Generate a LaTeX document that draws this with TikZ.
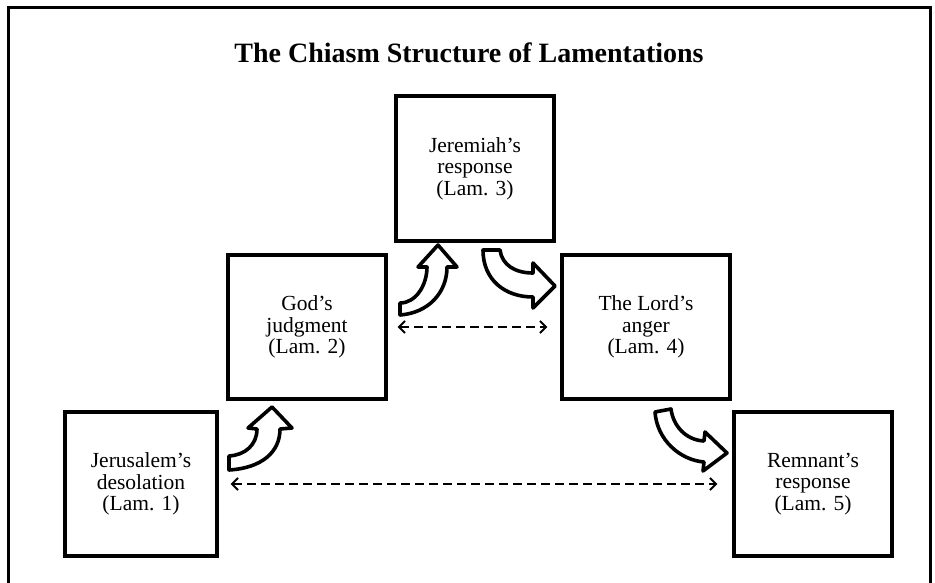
\documentclass[tikz,border=0pt]{standalone}
\usepackage{fontspec}
\setmainfont{Liberation Serif}
\usetikzlibrary{arrows.meta}
\tikzset{
  chbox/.style={draw=black, line width=3.2pt, fill=white, inner sep=0pt, align=center,
    font=\fontsize{21.5}{21.5}\selectfont},
  blockarrow/.style={draw=black, fill=white, line width=3.6pt, line join=round},
  dasharrow/.style={line width=2.2pt, dash pattern=on 9pt off 5pt,
    {Straight Barb[length=6pt,width=12pt,line width=2pt]}-{Straight Barb[length=6pt,width=12pt,line width=2pt]}},
  frameline/.style={line width=3pt}
}
\begin{document}
\begin{tikzpicture}[x=1pt,y=-1pt]
\useasboundingbox (0,0) rectangle (935,583);
\draw[frameline] (8,583) -- (8,8) -- (930,8) -- (930,583);
\node[anchor=base, font=\fontsize{28}{32}\selectfont\bfseries] (title) at (469,63) {The Chiasm Structure of Lamentations};

\node[chbox, minimum width=152pt, minimum height=144pt] (b1) at (141,484) {Jerusalem's\\desolation\\(Lam. 1)};
\node[chbox, minimum width=158pt, minimum height=144pt] (b2) at (307,327) {God's\\judgment\\(Lam. 2)};
\node[chbox, minimum width=158pt, minimum height=145pt] (b3) at (475,168.5) {Jeremiah's\\response\\(Lam. 3)};
\node[chbox, minimum width=168pt, minimum height=144pt] (b4) at (646,327) {The Lord's\\anger\\(Lam. 4)};
\node[chbox, minimum width=158pt, minimum height=144pt] (b5) at (813,484) {Remnant's\\response\\(Lam. 5)};

% curved block arrows
\draw[blockarrow] (229,470) .. controls (262,468) and (280,452) .. (280,429) -- (292,428) -- (272,407) -- (248,428) -- (257,429) .. controls (257,445) and (245,455) .. (229,456) -- cycle;
\draw[blockarrow] (400,315) .. controls (428,313) and (447,293) .. (447,267) -- (457,267) -- (438,245) -- (418,267) -- (427,267) .. controls (427,285) and (416,303) .. (400,303) -- cycle;
\draw[blockarrow] (483,250) -- (500,250) .. controls (502,265) and (515,273) .. (533,273) -- (533,263) -- (555,286) -- (533,308) -- (533,297) .. controls (505,297) and (483,280) .. (483,250) -- cycle;
\draw[blockarrow] (655,412) -- (671,409) .. controls (673,425) and (685,440) .. (704,441) -- (705,432) -- (727,453) -- (703,471) -- (704,462) .. controls (680,460) and (657,440) .. (655,412) -- cycle;

% dashed double arrows
\draw[dasharrow, shorten <=10pt, shorten >=13pt] (b2.east) -- (b2.east -| b4.west);
\draw[dasharrow, shorten <=12pt, shorten >=15pt] (b1.east) -- (b1.east -| b5.west);
\end{tikzpicture}
\end{document}
